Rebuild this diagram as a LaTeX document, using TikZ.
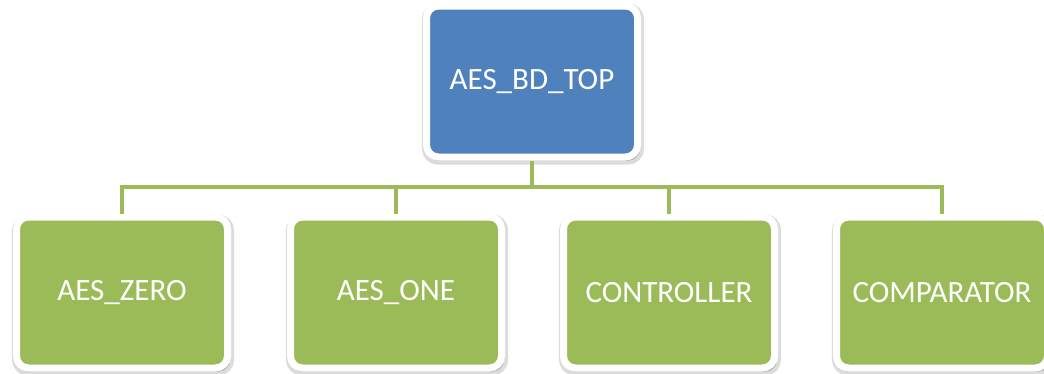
\documentclass[tikz,border=0pt]{standalone}
\usepackage{fontspec}
\setmainfont{Carlito}
\usetikzlibrary{shadows}
\definecolor{topblue}{HTML}{4F81BD}
\definecolor{leafgreen}{HTML}{9BBB59}
\tikzset{block/.style={rectangle,rounded corners=12pt,draw=white,line width=7pt,
                       minimum width=211pt,minimum height=151pt,text=white,
                       font=\fontsize{31}{37}\selectfont,
                       general shadow={shadow scale=1.015,shadow xshift=1pt,shadow yshift=-2.5pt,
                                       draw=black!45,line width=8pt,opacity=0.3,fill=black}},
         topblock/.style={block,fill=topblue},
         leafblock/.style={block,fill=leafgreen},
         link/.style={line width=4.5pt,color=leafgreen}
}
\begin{document}
\begin{tikzpicture}[x=1pt,y=-1pt]
  \useasboundingbox (0,0) rectangle (1044,373);
  \node[topblock] (top) at (532,81.5) {AES\_BD\_TOP};
  \foreach\name/\x/\txt in {zero/122/AES\_ZERO,one/396/AES\_ONE,ctrl/669/CONTROLLER,comp/942/COMPARATOR} {
     \node[leafblock] (\name) at (\x,292.5) {\txt};
  }
  \coordinate (bus) at (532,187);
  % tree lines
  \draw[link] (top.south) -- (bus);
  \draw[link] (zero.north) |- (bus) -| (comp.north);
  \draw[link] (one.north) -- (one.north |- bus);
  \draw[link] (ctrl.north) -- (ctrl.north |- bus);
\end{tikzpicture}
\end{document}
